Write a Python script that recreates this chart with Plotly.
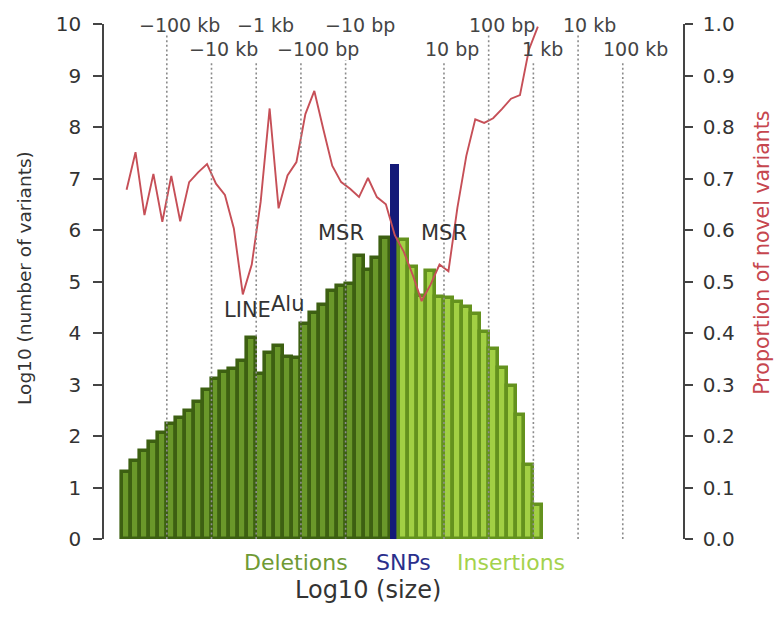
import plotly.graph_objects as go

# ---------------- data ----------------
# log10 size at bin centre (deletions listed left->right: largest first)
del_log10_size = [5.9, 5.7, 5.5, 5.3, 5.1, 4.9, 4.7, 4.5, 4.3, 4.1,
                  3.9, 3.7, 3.5, 3.3, 3.1, 2.9, 2.7, 2.5, 2.3, 2.1,
                  1.9, 1.7, 1.5, 1.3, 1.1, 0.9, 0.7, 0.5, 0.3, 0.1]
del_log10_count = [1.31, 1.52, 1.70, 1.89, 2.06, 2.23, 2.35, 2.49, 2.66, 2.89,
                   3.10, 3.24, 3.31, 3.45, 3.91, 3.21, 3.62, 3.75, 3.54, 3.52,
                   4.17, 4.38, 4.55, 4.81, 4.92, 4.95, 5.49, 5.23, 5.45, 5.85]
del_novel = [0.678, 0.751, 0.629, 0.709, 0.616, 0.705, 0.617, 0.693, 0.712, 0.728,
             0.690, 0.668, 0.603, 0.475, 0.533, 0.655, 0.836, 0.642, 0.706, 0.732,
             0.825, 0.870, 0.796, 0.725, 0.693, 0.680, 0.664, 0.701, 0.664, 0.650]

snp_log10_count = 7.28
snp_novel = 0.59

ins_log10_size = [0.1, 0.3, 0.5, 0.7, 0.9, 1.1, 1.3, 1.5, 1.7, 1.9,
                  2.1, 2.3, 2.5, 2.7, 2.9, 3.1]
ins_log10_count = [5.81, 5.29, 4.72, 5.21, 4.70, 4.68, 4.60, 4.50, 4.37, 4.02,
                   3.68, 3.33, 2.98, 2.40, 1.43, 0.67]
ins_novel = [0.558, 0.513, 0.462, 0.494, 0.533, 0.520, 0.643, 0.744, 0.815, 0.808,
             0.817, 0.835, 0.855, 0.862, 0.950, 0.995]

# size reference lines (log10 bp) and their labels
ref_log10 = [5, 4, 3, 2, 1, 1, 2, 3, 4, 5]
ref_sign = [-1, -1, -1, -1, -1, 1, 1, 1, 1, 1]
ref_labels = ["\u2212100 kb", "\u221210 kb", "\u22121 kb", "\u2212100 bp", "\u221210 bp",
              "10 bp", "100 bp", "1 kb", "10 kb", "100 kb"]

feature_labels = ["LINE", "Alu", "MSR", "MSR"]
feature_log10 = [-3.3, -2.4, -1.2, 1.1]   # signed position of feature labels
feature_level = [4.45, 4.57, 5.95, 5.95]

category_labels = ["Deletions", "SNPs", "Insertions"]

# ---------------- layout helpers ----------------
GAP = 0.1  # half width of SNP column in log units
del_x = [-(s + GAP) for s in del_log10_size]
ins_x = [s + GAP for s in ins_log10_size]

FONT = "DejaVu Sans"
BW = 0.2

fig = go.Figure()
fig.add_trace(go.Bar(x=del_x, y=del_log10_count, width=BW,
                     marker=dict(color="#6a982a", line=dict(color="#3d6012", width=3.6)),
                     showlegend=False))
fig.add_trace(go.Bar(x=[0], y=[snp_log10_count], width=BW,
                     marker=dict(color="#141a78", line=dict(width=0)),
                     showlegend=False))
fig.add_trace(go.Bar(x=ins_x, y=ins_log10_count, width=BW,
                     marker=dict(color="#a2d044", line=dict(color="#64921e", width=3.6)),
                     showlegend=False))
fig.add_trace(go.Scatter(x=del_x + [0] + ins_x, y=del_novel + [snp_novel] + ins_novel,
                         mode="lines", yaxis="y2",
                         line=dict(color="#c64f57", width=1.9),
                         showlegend=False))

# dotted reference lines
row_of = [1, 2, 1, 2, 1, 2, 1, 2, 1, 2]
line_top = [9.79, 9.28, 9.24, 9.28, 9.30, 9.28, 9.80, 9.28, 9.82, 9.28]
label_shift = [13, 11.5, 9, 16.8, 14, 8.2, 13, 9, 11.2, 12.8]
for lg, sg, lab, row, top, sh in zip(ref_log10, ref_sign, ref_labels, row_of, line_top, label_shift):
    xv = sg * (lg + GAP)
    fig.add_shape(type="line", x0=xv, x1=xv, y0=0, y1=top, xref="x", yref="y",
                  line=dict(color="#8c8c8c", width=1.6, dash="2px,2.6px"), layer="above")
    fig.add_annotation(x=xv, xshift=sh, y=9.99 if row == 1 else 9.51, xref="x", yref="y",
                       xanchor="center", yanchor="middle",
                       text=lab, showarrow=False,
                       font=dict(family=FONT, size=19, color="#444444"))

for lab, fx, fy in zip(feature_labels, feature_log10, feature_level):
    fig.add_annotation(x=fx, y=fy, xref="x", yref="y", text=lab, showarrow=False,
                       xanchor="center", yanchor="middle",
                       font=dict(family=FONT, size=21, color="#333333"))

# bottom category labels and axis title
cat_x = [-2.22, 0.2, 2.61]
cat_col = ["#6f9a35", "#2a2f8c", "#a4d24c"]
for lab, cx, cc in zip(category_labels, cat_x, cat_col):
    fig.add_annotation(x=cx, y=-0.0457, xref="x", yref="paper", text=lab,
                       xanchor="center", yanchor="middle",
                       showarrow=False, font=dict(family=FONT, size=22, color=cc))
fig.add_annotation(x=-0.61, y=-0.0998, xref="x", yref="paper", text="Log10 (size)",
                   xanchor="center", yanchor="middle",
                   showarrow=False, font=dict(family=FONT, size=24, color="#333333"))

# vertical axis titles
fig.add_annotation(x=-0.1364, y=0.507, xref="paper", yref="paper",
                   xanchor="center", yanchor="middle",
                   text="Log10 (number of variants)", textangle=-90, showarrow=False,
                   font=dict(family=FONT, size=18.5, color="#333333"))
fig.add_annotation(x=1.1364, y=0.556, xref="paper", yref="paper",
                   xanchor="center", yanchor="middle",
                   text="Proportion of novel variants", textangle=-90, showarrow=False,
                   font=dict(family=FONT, size=20.5, color="#c6464e"))

fig.update_layout(
    width=782, height=619,
    margin=dict(l=104, r=99, t=21, b=80),
    paper_bgcolor="white", plot_bgcolor="white",
    bargap=0,
    xaxis=dict(range=[-6.505, 6.447], showgrid=False, zeroline=False,
               showticklabels=False, ticks="", showline=False),
    yaxis=dict(range=[0, 10], tickvals=list(range(0, 11)), showgrid=False, zeroline=False,
               showline=True, linecolor="#444444", linewidth=1.6,
               ticks="outside", ticklen=9, tickwidth=1.6, tickcolor="#444444",
               ticklabelstandoff=8,
               tickfont=dict(family=FONT, size=20, color="#333333")),
    yaxis2=dict(range=[0, 1], overlaying="y", side="right",
                tickvals=[i / 10 for i in range(11)],
                ticktext=["%.1f" % (i / 10) for i in range(11)],
                showgrid=False, zeroline=False,
                showline=True, linecolor="#444444", linewidth=1.6,
                ticks="outside", ticklen=8, tickwidth=1.6, tickcolor="#444444",
                ticklabelstandoff=6,
                tickfont=dict(family=FONT, size=20, color="#333333")),
)

fig.write_html("out.html")
